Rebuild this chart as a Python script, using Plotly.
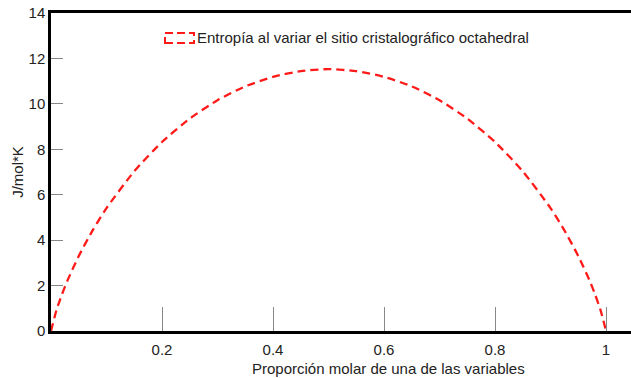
import plotly.graph_objects as go

x_vals = [0, 0.01, 0.02, 0.03, 0.05, 0.075, 0.1, 0.15, 0.2, 0.25, 0.3, 0.35, 0.4, 0.45, 0.5,
          0.55, 0.6, 0.65, 0.7, 0.75, 0.8, 0.85, 0.9, 0.925, 0.95, 0.97, 0.98, 0.99, 1.0]
entropy = [0, 0.93, 1.63, 2.24, 3.30, 4.43, 5.41, 7.03, 8.32, 9.35, 10.16, 10.77, 11.19, 11.44, 11.53,
           11.44, 11.19, 10.77, 10.16, 9.35, 8.32, 7.03, 5.41, 4.43, 3.30, 2.24, 1.63, 0.93, 0]
x_ticks = [0.2, 0.4, 0.6, 0.8, 1]
y_ticks = [0, 2, 4, 6, 8, 10, 12, 14]
series_name = "Entropía al variar el sitio cristalográfico octahedral"
x_title = "Proporción molar de una de las variables"
y_title = "J/mol*K"

fig = go.Figure()
fig.add_trace(go.Scatter(x=x_vals, y=entropy, mode="lines", name=series_name,
                         line=dict(color="#ff1a1a", width=2.3, dash="8px,5px", shape="spline", smoothing=0.6),
                         showlegend=False))

fig.update_layout(
    width=631, height=378,
    margin=dict(l=51, r=0, t=13, b=47),
    paper_bgcolor="white", plot_bgcolor="white",
    font=dict(family="Liberation Sans, Arial, sans-serif", size=15, color="#222"),
    xaxis=dict(range=[0, 1.045], tickvals=x_ticks, ticktext=[str(t) for t in x_ticks],
               ticks="inside", ticklen=24, tickcolor="#888", tickwidth=1,
               ticklabelstandoff=3,
               showline=True, linecolor="black", linewidth=2.5, mirror=True,
               showgrid=False, zeroline=False),
    yaxis=dict(range=[0, 14], tickvals=y_ticks,
               ticks="inside", ticklen=12, tickcolor="#888", tickwidth=1,
               showline=True, linecolor="black", linewidth=2.5,
               showgrid=False, zeroline=False,
               title=dict(text=y_title, standoff=2, font=dict(size=15))),
)

# x-axis title (offset to the right as in the reference)
fig.add_annotation(xref="paper", yref="paper", x=(388 - 51) / 580, y=-(368 - 331) / 318,
                   text=x_title, showarrow=False, xanchor="center", yanchor="middle",
                   font=dict(size=15, color="#222"))

# legend drawn as a dashed box plus text
fig.add_shape(type="rect", xref="paper", yref="paper",
              x0=(165 - 51) / 580, x1=(194 - 51) / 580,
              y0=(331 - 43) / 318, y1=(331 - 33) / 318,
              line=dict(color="#ff1a1a", width=2, dash="8px,4px"))
fig.add_annotation(xref="paper", yref="paper", x=(195 - 51) / 580, y=(331 - 38) / 318,
                   text=series_name, showarrow=False, xanchor="left", yanchor="middle",
                   font=dict(size=15, color="#222"))

fig.write_html("out.html")
